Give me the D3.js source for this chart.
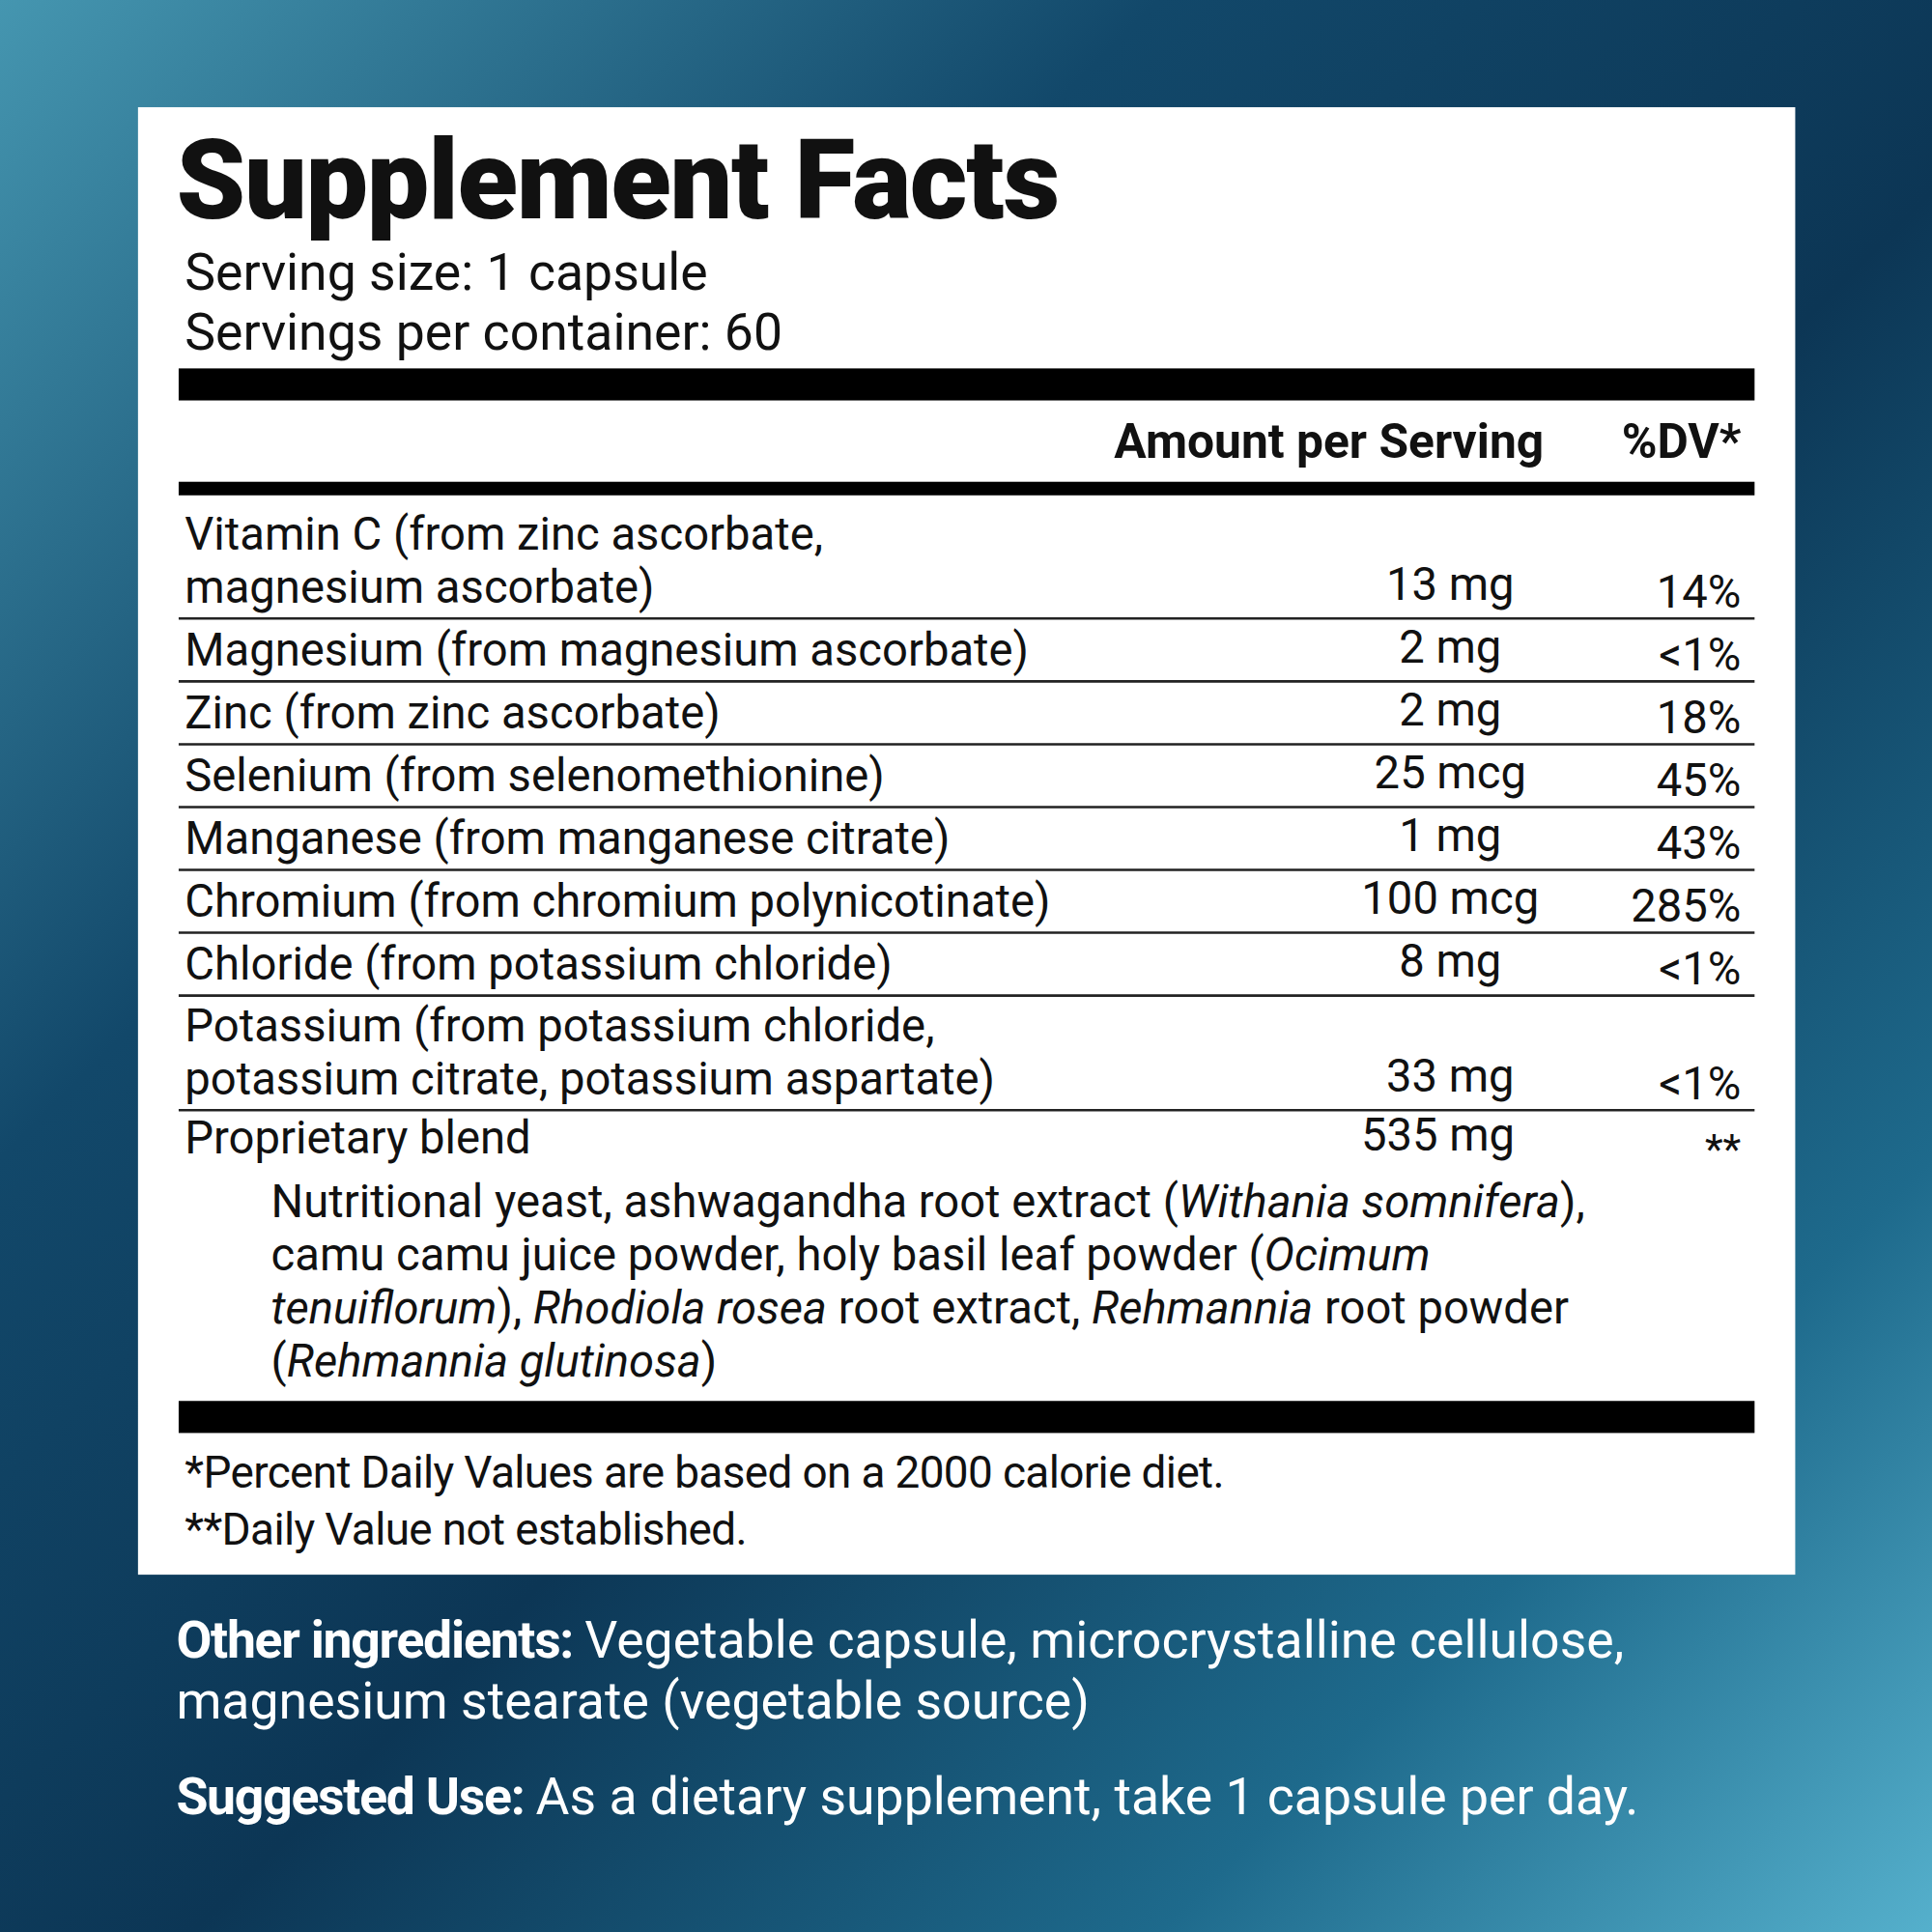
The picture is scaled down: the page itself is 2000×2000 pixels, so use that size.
<!DOCTYPE html>
<html><head><meta charset="utf-8">
<script src="https://cdn.jsdelivr.net/npm/d3@7"></script>
<style>body{margin:0}svg{display:block}</style>
</head><body>
<svg id="c" width="2000" height="2000" viewBox="0 0 1568 1568"></svg>
<script>
// label data
const nutrients = [
  ['Vitamin C (from zinc ascorbate,', 'magnesium ascorbate)'],
  ['Magnesium (from magnesium ascorbate)'],
  ['Zinc (from zinc ascorbate)'],
  ['Selenium (from selenomethionine)'],
  ['Manganese (from manganese citrate)'],
  ['Chromium (from chromium polynicotinate)'],
  ['Chloride (from potassium chloride)'],
  ['Potassium (from potassium chloride,', 'potassium citrate, potassium aspartate)']
];
const amounts = ['13 mg', '2 mg', '2 mg', '25 mcg', '1 mg', '100 mcg', '8 mg', '33 mg'];
const dvs = ['14%', '<1%', '18%', '45%', '43%', '285%', '<1%', '<1%'];
const blendLines = [
  [['Nutritional yeast, ashwagandha root extract (', 0], ['Withania somnifera', 1], ['),', 0]],
  [['camu camu juice powder, holy basil leaf powder (', 0], ['Ocimum', 1]],
  [['tenuiflorum', 1], ['), ', 0], ['Rhodiola rosea', 1], [' root extract, ', 0], ['Rehmannia', 1], [' root powder', 0]],
  [['(', 0], ['Rehmannia glutinosa', 1], [')', 0]]
];
const footnotes = ['*Percent Daily Values are based on a 2000 calorie diet.', '**Daily Value not established.'];

const svg = d3.select('#c');
const F = 'Roboto, "Noto Sans", sans-serif';

const defs = svg.append('defs');
const g = defs.append('linearGradient').attr('id', 'bg')
  .attr('x1', '0').attr('y1', '0').attr('x2', '1').attr('y2', '1');
[['0%', '#4596b0'], ['30%', '#12486a'], ['55%', '#0c3655'], ['80%', '#1e6a8c'], ['100%', '#55b0cc']]
  .forEach(([o, c]) => g.append('stop').attr('offset', o).attr('stop-color', c));
svg.append('rect').attr('width', 1568).attr('height', 1568).attr('fill', 'url(#bg)');

svg.append('rect').attr('x', 112).attr('y', 87).attr('width', 1345).attr('height', 1191).attr('fill', '#fff');

const txt = (x, y, s, size, weight, anchor) => svg.append('text')
  .attr('x', x).attr('y', y).attr('font-family', F).attr('font-size', size)
  .attr('font-weight', weight || 400).attr('text-anchor', anchor || 'start')
  .attr('fill', '#111').text(s);

txt(143, 177, 'Supplement Facts', 90, 900).attr('letter-spacing', -1);
txt(150, 235, 'Serving size: 1 capsule', 42);
txt(150, 284, 'Servings per container: 60', 42);

const bar = (y, h) => svg.append('rect').attr('x', 145).attr('y', y).attr('width', 1279).attr('height', h).attr('fill', '#000');
bar(299, 26);
txt(1253, 372, 'Amount per Serving', 39, 700, 'end');
txt(1413, 372, '%DV*', 39, 700, 'end');
bar(391, 11);

// rows
const lineH = 43;
let yPos = 402;
const rows = nutrients.map((n, i) => {
  const h = n.length === 1 ? 51 : (i === 0 ? 100 : 93);
  const r = { lines: n, amount: amounts[i], dv: dvs[i], y0: yPos, h };
  yPos += h;
  return r;
});
const row = svg.append('g').selectAll('g').data(rows).join('g');
row.each(function (d) {
  const gg = d3.select(this);
  const base = d.y0 + d.h - 13;
  d.lines.forEach((l, j) => gg.append('text').attr('x', 150)
    .attr('y', base - (d.lines.length - 1 - j) * lineH)
    .attr('font-family', F).attr('font-size', 37).attr('fill', '#111').text(l));
  gg.append('text').attr('x', 1177).attr('y', base - 2).attr('text-anchor', 'middle')
    .attr('font-family', F).attr('font-size', 37).attr('fill', '#111').text(d.amount);
  gg.append('text').attr('x', 1413).attr('y', base + 4).attr('text-anchor', 'end')
    .attr('font-family', F).attr('font-size', 37).attr('fill', '#111').text(d.dv);
  gg.append('line').attr('x1', 145).attr('x2', 1424).attr('y1', d.y0 + d.h).attr('y2', d.y0 + d.h)
    .attr('stroke', '#222').attr('stroke-width', 2);
});

txt(150, 936, 'Proprietary blend', 37);
txt(1167, 934, '535 mg', 37, 400, 'middle');
txt(1413, 944, '**', 34, 400, 'end');

blendLines.forEach((parts, i) => {
  const t = txt(220, 988 + i * 43, '', 37);
  parts.forEach(([s, it]) => t.append('tspan').attr('font-style', it ? 'italic' : 'normal').text(s));
});

bar(1137, 26);
footnotes.forEach((f, i) => txt(150, 1207 + i * 47, f, 36).attr('letter-spacing', -0.5));

const wt = (y, b, s) => {
  const t = svg.append('text').attr('x', 143).attr('y', y).attr('font-family', F)
    .attr('font-size', 42).attr('fill', '#fff');
  if (b) t.append('tspan').attr('font-weight', 700).attr('letter-spacing', -1).text(b);
  t.append('tspan').text(s);
};
wt(1345, 'Other ingredients: ', 'Vegetable capsule, microcrystalline cellulose,');
wt(1395, null, 'magnesium stearate (vegetable source)');
wt(1472, 'Suggested Use: ', 'As a dietary supplement, take 1 capsule per day.');
</script>
</body></html>
